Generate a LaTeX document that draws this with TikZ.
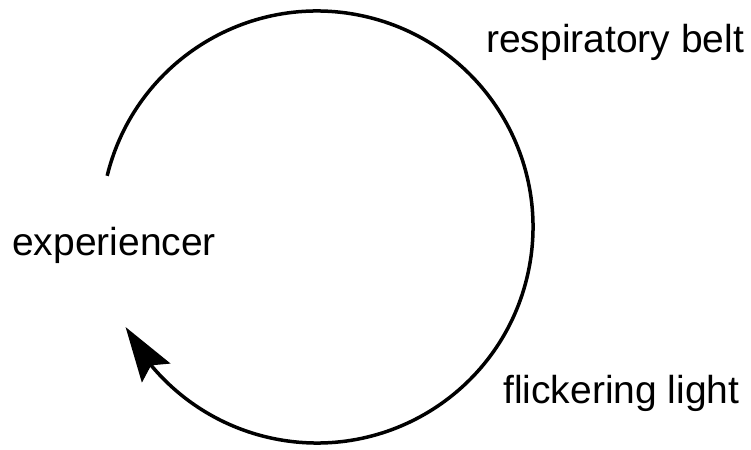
\documentclass[tikz,border=0pt]{standalone}
\usepackage{fontspec}
\setmainfont{Liberation Sans}
\usetikzlibrary{arrows.meta,bending,calc}
\begin{document}
\begin{tikzpicture}[x=1pt,y=1pt,
  lbl/.style={anchor=base west,inner sep=0pt,font=\fontsize{39}{47}\selectfont},
  loop/.style={line width=3.5pt,-{Stealth[length=55pt,width=34pt,inset=9pt,flex]}}]
\useasboundingbox (0,0) rectangle (751,449);
\node[lbl] (belt) at (486,396) {respiratory belt};
\node[lbl] (exp) at (12,193) {experiencer};
\node[lbl] (light) at (503,45) {flickering light};
\coordinate (c) at (317,222);
\coordinate (s) at ($(c)+(166.3:216)$);
\draw[loop] (s) arc[start angle=166.3,end angle=-152.4,radius=216pt];
\end{tikzpicture}
\end{document}
